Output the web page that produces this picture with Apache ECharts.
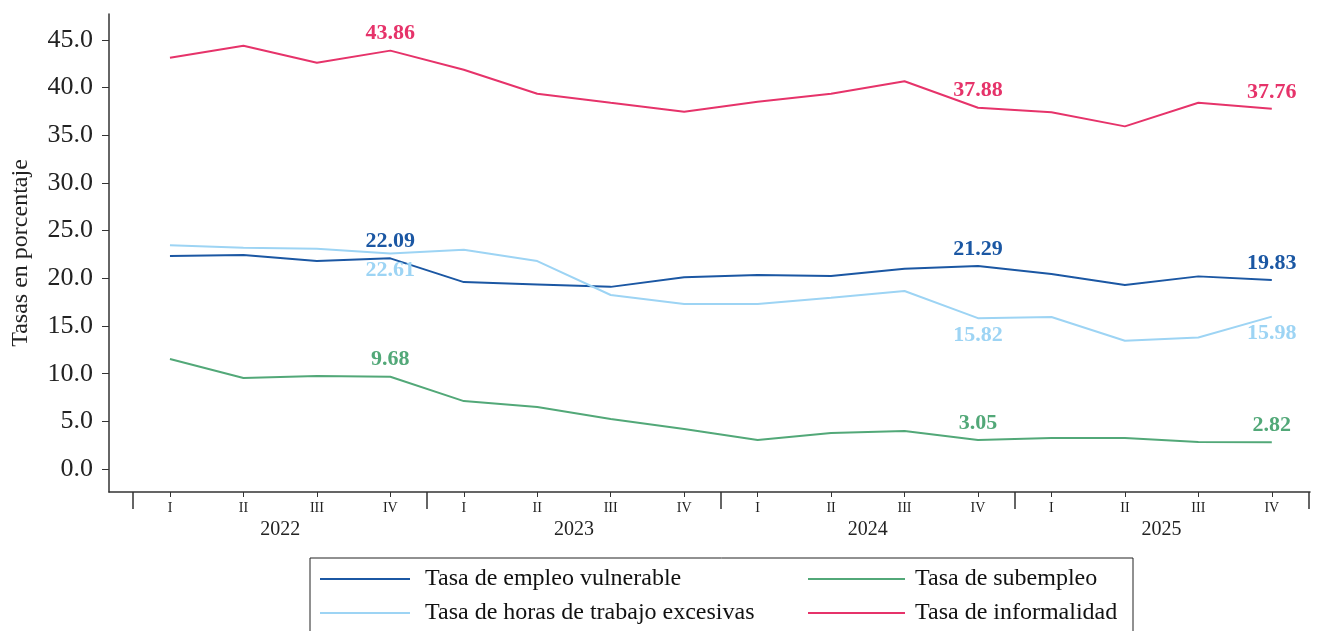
<!DOCTYPE html>
<html>
<head>
<meta charset="utf-8">
<script src="https://cdn.jsdelivr.net/npm/echarts@6/dist/echarts.min.js"></script>
<style>
  html, body { margin: 0; padding: 0; background: #fff; }
  #chart { width: 1325px; height: 631px; }
</style>
</head>
<body>
<div id="chart"></div>
<script>
// datos por trimestre 2022-I .. 2025-IV
const quarters = ["I", "II", "III", "IV"];
const years = ["2022", "2023", "2024", "2025"];
const vulnerable = [22.34, 22.45, 21.82, 22.09, 19.6, 19.35, 19.1, 20.1, 20.35, 20.25, 21.0, 21.29, 20.45, 19.3, 20.2, 19.83];
const horas = [23.45, 23.2, 23.1, 22.61, 23.0, 21.8, 18.25, 17.3, 17.3, 17.95, 18.67, 15.82, 15.95, 13.45, 13.8, 15.98];
const subempleo = [11.54, 9.55, 9.76, 9.68, 7.13, 6.5, 5.25, 4.2, 3.04, 3.78, 3.99, 3.05, 3.25, 3.25, 2.83, 2.82];
const informalidad = [43.11, 44.37, 42.59, 43.86, 41.85, 39.34, 38.39, 37.45, 38.5, 39.34, 40.65, 37.88, 37.4, 35.92, 38.39, 37.76];
const labelIdx = [3, 11, 15]; // puntos con etiqueta
const yTicks = [0, 5, 10, 15, 20, 25, 30, 35, 40, 45];

const font = "Liberation Serif";
const qPos = vulnerable.map((v, i) => i);
const yearSep = [-0.5, 3.5, 7.5, 11.5, 15.5];
const yearPos = [1.5, 5.5, 9.5, 13.5];

const build = (arr, pos) =>
  arr.map((v, i) => {
    const item = { value: [i, v] };
    if (labelIdx.includes(i)) item.label = { show: true, position: pos };
    return item;
  });

const mkSeries = (name, arr, color, pos) => ({
  name: name,
  type: "line",
  data: build(arr, pos),
  symbol: "circle",
  symbolSize: 0,
  showSymbol: true,
  lineStyle: { color: color, width: 2 },
  itemStyle: { color: color },
  label: {
    show: false,
    color: color,
    fontFamily: font,
    fontWeight: "bold",
    fontSize: 22,
    distance: 6,
    formatter: (p) => p.value[1].toFixed(2),
  },
});

const xBase = {
  type: "value", min: -0.83, max: 15.52, position: "bottom", offset: 0,
  splitLine: { show: false },
};

const legendText = { fontSize: 24, color: "#111", fontFamily: font, lineHeight: 24 };

const chart = echarts.init(document.getElementById("chart"));
chart.setOption({
  animation: false,
  textStyle: { fontFamily: font },
  grid: { left: 109, right: 15, top: 14, bottom: 139, containLabel: false, outerBoundsMode: "none" },
  xAxis: [
    Object.assign({}, xBase, {
      axisLine: { show: true, onZero: false, lineStyle: { color: "#333", width: 1.5 } },
      axisTick: { show: true, customValues: qPos, length: 5, lineStyle: { color: "#333" } },
      axisLabel: {
        customValues: qPos,
        formatter: (v) => quarters[Math.round(v) % 4],
        fontSize: 14, color: "#222", fontFamily: font, margin: 9,
      },
    }),
    Object.assign({}, xBase, {
      axisLine: { show: false, onZero: false },
      axisTick: { show: true, customValues: yearSep, length: 17, lineStyle: { color: "#333", width: 1.5 } },
      axisLabel: { show: false },
    }),
    Object.assign({}, xBase, {
      axisLine: { show: false, onZero: false },
      axisTick: { show: false },
      axisLabel: {
        customValues: yearPos,
        formatter: (v) => years[Math.round((v - 1.5) / 4)],
        fontSize: 20, color: "#222", fontFamily: font, margin: 28,
      },
    }),
  ],
  yAxis: {
    type: "value",
    min: -2.4,
    max: 47.7,
    name: "Tasas en porcentaje",
    nameLocation: "middle",
    nameRotate: 90,
    nameGap: 76,
    nameTextStyle: { fontSize: 24, color: "#222", fontFamily: font },
    splitLine: { show: false },
    axisLine: { show: true, onZero: false, lineStyle: { color: "#333", width: 1.5 } },
    axisTick: { show: true, customValues: yTicks, length: 7, lineStyle: { color: "#333" } },
    axisLabel: {
      customValues: yTicks,
      formatter: (v) => v.toFixed(1),
      fontSize: 26, color: "#222", fontFamily: font, margin: 16,
    },
  },
  graphic: [
    {
      type: "rect",
      shape: { x: 310, y: 558, width: 823, height: 80 },
      style: { fill: "none", stroke: "#222", lineWidth: 1 },
    },
  ],
  legend: [
    {
      orient: "vertical",
      left: 320, top: 567, padding: 0,
      icon: "rect",
      itemWidth: 90, itemHeight: 2, itemGap: 10,
      textStyle: Object.assign({ padding: [0, 0, 0, 10] }, legendText),
      data: ["Tasa de empleo vulnerable", "Tasa de horas de trabajo excesivas"],
    },
    {
      orient: "vertical",
      left: 808, top: 567, padding: 0,
      icon: "rect",
      itemWidth: 97, itemHeight: 2, itemGap: 10,
      textStyle: Object.assign({ padding: [0, 0, 0, 5] }, legendText),
      data: ["Tasa de subempleo", "Tasa de informalidad"],
    },
  ],
  series: [
    mkSeries("Tasa de empleo vulnerable", vulnerable, "#1b57a3", "top"),
    mkSeries("Tasa de horas de trabajo excesivas", horas, "#9dd4f4", "bottom"),
    mkSeries("Tasa de subempleo", subempleo, "#52a878", "top"),
    mkSeries("Tasa de informalidad", informalidad, "#e6336a", "top"),
  ],
});
</script>
</body>
</html>
